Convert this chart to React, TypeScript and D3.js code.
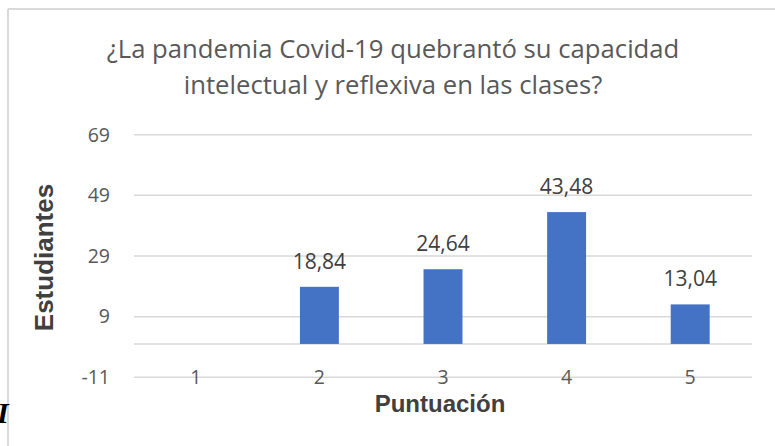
import React, { useRef, useEffect } from "react";
import * as d3 from "d3";

const categories = ["1", "2", "3", "4", "5"];
const values: (number | null)[] = [null, 18.84, 24.64, 43.48, 13.04];
const yTicks = [-11, 9, 29, 49, 69];
const titleLines = [
  "¿La pandemia Covid-19 quebrantó su capacidad",
  "intelectual y reflexiva en las clases?",
];
const xTitle = "Puntuación";
const yTitle = "Estudiantes";

const W = 775;
const H = 446;

const App = () => {
  const svgRef = useRef<SVGSVGElement>(null);

  function draw() {
    const svg = d3.select(svgRef.current);
    svg.selectAll("*").remove();

    const left = 134;
    const right = 752;
    const top = 134.7;
    const bottom = 377.3;

    const x = d3.scaleBand().domain(categories).range([left, right]).paddingInner(0.685).paddingOuter(0.3425);
    const xc = d3.scaleBand().domain(categories).range([left, right]);
    const y = d3.scaleLinear().domain([-11, 69]).range([bottom, top]);

    const grid = "#d9d9d9";
    const text = "#595959";
    const fmt = (v: number) => d3.format(".2f")(v).replace(".", ",");

    // chart frame (only top and left edges are in the crop)
    svg.append("line").attr("x1", 8).attr("x2", W).attr("y1", 9).attr("y2", 9)
      .attr("stroke", grid).attr("stroke-width", 2);
    svg.append("line").attr("x1", 8).attr("x2", 8).attr("y1", 9).attr("y2", H)
      .attr("stroke", grid).attr("stroke-width", 2);

    // title
    svg.append("g").selectAll("text").data(titleLines).enter().append("text")
      .attr("x", 393)
      .attr("y", (d, i) => 58 + i * 36)
      .attr("text-anchor", "middle")
      .style("font-family", "'Open Sans', sans-serif")
      .style("font-size", "25.7px")
      .attr("fill", text)
      .text((d) => d);

    // gridlines
    svg.append("g").selectAll("line").data(yTicks.concat([0])).enter().append("line")
      .attr("x1", left).attr("x2", right)
      .attr("y1", (d) => y(d)).attr("y2", (d) => y(d))
      .attr("stroke", grid).attr("stroke-width", 1.5);

    // y tick labels
    svg.append("g").selectAll("text").data(yTicks).enter().append("text")
      .attr("x", 110)
      .attr("y", (d) => y(d))
      .attr("dy", "0.35em")
      .attr("text-anchor", "end")
      .style("font-family", "'Open Sans', sans-serif")
      .style("font-size", "19.5px")
      .attr("fill", text)
      .text((d) => d);

    // x tick labels (sit on the lowest gridline)
    svg.append("g").selectAll("text").data(categories).enter().append("text")
      .attr("x", (d) => (xc(d) as number) + xc.bandwidth() / 2)
      .attr("y", y(-11))
      .attr("dy", "0.35em")
      .attr("text-anchor", "middle")
      .style("font-family", "'Open Sans', sans-serif")
      .style("font-size", "19.5px")
      .attr("fill", text)
      .text((d) => d);

    const rows = categories
      .map((c, i) => ({ c, v: values[i] }))
      .filter((d) => d.v !== null) as { c: string; v: number }[];

    svg.append("g").selectAll("rect").data(rows).enter().append("rect")
      .attr("x", (d) => x(d.c) as number)
      .attr("width", x.bandwidth())
      .attr("y", (d) => y(d.v))
      .attr("height", (d) => y(0) - y(d.v))
      .attr("fill", "#4472c4");

    svg.append("g").selectAll("text").data(rows).enter().append("text")
      .attr("x", (d) => (x(d.c) as number) + x.bandwidth() / 2)
      .attr("y", (d) => y(d.v) - 18)
      .attr("text-anchor", "middle")
      .style("font-family", "'Open Sans', sans-serif")
      .style("font-size", "21px")
      .attr("fill", "#404040")
      .text((d) => fmt(d.v));

    // axis titles
    svg.append("text")
      .attr("x", 440).attr("y", 412)
      .attr("text-anchor", "middle")
      .style("font-family", "'Liberation Sans', Arial, sans-serif")
      .style("font-size", "24px")
      .style("font-weight", "bold")
      .attr("fill", "#404040")
      .text(xTitle);

    svg.append("text")
      .attr("transform", "translate(53, 257.5) rotate(-90)")
      .attr("text-anchor", "middle")
      .style("font-family", "'Liberation Sans', Arial, sans-serif")
      .style("font-size", "26px")
      .style("font-weight", "bold")
      .attr("fill", "#404040")
      .text(yTitle);

    // stray glyph at the left edge of the crop (clipped in the source too)
    svg.append("text")
      .attr("x", -3).attr("y", 423)
      .style("font-family", "'Liberation Serif', serif")
      .style("font-size", "30px")
      .style("font-weight", "bold")
      .style("font-style", "italic")
      .attr("fill", "#000")
      .text("I");
  }

  useEffect(draw, []);

  return (
    <svg
      ref={svgRef}
      width={W}
      height={H}
      style={{ position: "absolute", left: 0, top: 0, background: "#fff" }}
    />
  );
};

export default App;
